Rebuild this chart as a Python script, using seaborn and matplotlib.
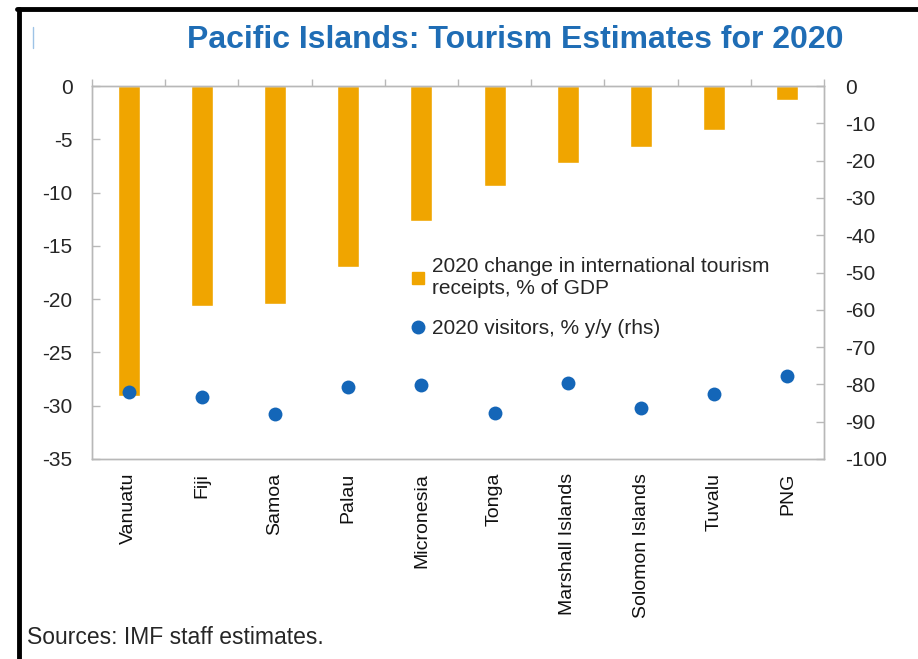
import matplotlib
matplotlib.use("Agg")
import matplotlib.pyplot as plt
import seaborn as sns
import numpy as np
import pandas as pd
from matplotlib.lines import Line2D

countries = ["Vanuatu", "Fiji", "Samoa", "Palau", "Micronesia", "Tonga",
             "Marshall Islands", "Solomon Islands", "Tuvalu", "PNG"]
receipts_gdp = [-29.1, -20.6, -20.5, -17.0, -12.7, -9.4, -7.2, -5.7, -4.1, -1.3]
visitors_yy = [-82.0, -83.4, -87.9, -80.7, -80.2, -87.7, -79.6, -86.3, -82.6, -77.7]
left_ticks = [0, -5, -10, -15, -20, -25, -30, -35]
right_ticks = [0, -10, -20, -30, -40, -50, -60, -70, -80, -90, -100]

title = "Pacific Islands: Tourism Estimates for 2020"
source = "Sources: IMF staff estimates."
bar_label = "2020 change in international tourism\nreceipts, % of GDP"
dot_label = "2020 visitors, % y/y (rhs)"

ORANGE = "#F0A500"
BLUE = "#1466B8"
TITLE_BLUE = "#1F6DB5"
SPINE = "#B8B8B8"
TXT = "#262626"

sns.set_theme(style="white")
plt.rcParams["font.family"] = ["Liberation Sans", "DejaVu Sans"]

df = pd.DataFrame({"country": countries, "receipts": receipts_gdp, "visitors": visitors_yy})

fig = plt.figure(figsize=(9.18, 6.59), dpi=100)
ax = fig.add_axes([92/918, 1-459/659, (824-92)/918, (459-86)/659])

sns.barplot(data=df, x="country", y="receipts", color=ORANGE, width=0.3,
            saturation=1, ax=ax, order=countries)
ax.set_ylim(-35, 0)
ax.set_xlim(-0.5, len(countries)-0.5)
ax.set_yticks(left_ticks)
ax.set_yticklabels([str(t) for t in left_ticks])
ax.set_xlabel("")
ax.set_ylabel("")

ax2 = ax.twinx()
sns.stripplot(data=df, x="country", y="visitors", order=countries, jitter=False,
              color=BLUE, size=10, linewidth=0, ax=ax2, native_scale=False)
ax2.set_ylim(-100, 0)
ax2.set_xlim(-0.5, len(countries)-0.5)
ax2.set_yticks(right_ticks)
ax2.set_yticklabels([str(t) for t in right_ticks])
ax2.set_ylabel("")
ax2.set_xlabel("")

for a in (ax, ax2):
    for s in a.spines.values():
        s.set_color(SPINE)
        s.set_linewidth(1.0)
        s.set_visible(True)

# x axis labels
ax.set_xticks(range(len(countries)))
ax.set_xticklabels(countries, rotation=90, fontsize=14, color="#111111")
ax.tick_params(axis="x", which="major", length=0, pad=10, bottom=False)
ax.set_xticks(np.arange(-0.5, len(countries), 1), minor=True)
ax.tick_params(axis="x", which="minor", top=True, bottom=False, direction="out",
               length=5, color=SPINE, width=1)
ax2.tick_params(axis="x", which="both", length=0, labelbottom=False, labeltop=False)

ax.tick_params(axis="y", direction="in", length=6, color=SPINE, width=1,
               labelsize=15, labelcolor=TXT, pad=14, left=True)
ax2.tick_params(axis="y", direction="in", length=6, color=SPINE, width=1,
                labelsize=15, labelcolor=TXT, pad=15, right=True)

# legend
handles = [
    Line2D([], [], marker="s", linestyle="none", markersize=9, color=ORANGE),
    Line2D([], [], marker="o", linestyle="none", markersize=9, color=BLUE),
]
fig.legend(handles, [bar_label, dot_label], loc="upper left",
           bbox_to_anchor=(411/918, 1-257/659), frameon=False, fontsize=15,
           handlelength=0.7, handletextpad=0.3, labelspacing=1.0,
           borderaxespad=0, borderpad=0, labelcolor=TXT)

fig.text(515/918, 1-40/659, title, ha="center", va="center", fontsize=23,
         fontweight="bold", color=TITLE_BLUE,
         family=["Liberation Sans Narrow", "Liberation Sans", "DejaVu Sans"])
fig.text(27/918, 1-637/659, source, ha="left", va="center", fontsize=16.5,
         color=TXT, family=["Liberation Sans Narrow", "Liberation Sans", "DejaVu Sans"])

# black frame lines (left and top) and small blue mark
fig.add_artist(Line2D([19/918, 19/918], [0, 1-9/659], color="black", lw=3.5,
                      transform=fig.transFigure))
fig.add_artist(Line2D([17/918, 1], [1-9/659, 1-9/659], color="black", lw=3.5,
                      transform=fig.transFigure))
fig.add_artist(Line2D([33/918, 33/918], [1-27/659, 1-48/659], color="#9EC3E6", lw=1,
                      transform=fig.transFigure))

fig.savefig("out.png", dpi=100)
